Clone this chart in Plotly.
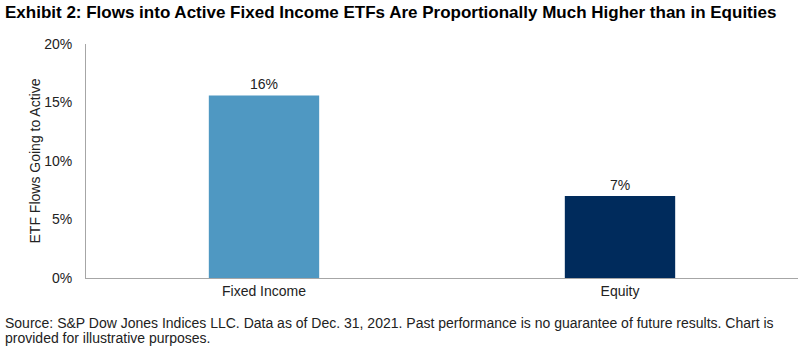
import plotly.graph_objects as go

categories = ["Fixed Income", "Equity"]
values = [15.6, 7.0]
value_labels = ["16%", "7%"]
bar_colors = ["#4F98C2", "#002B5C"]
y_tick_vals = [0, 5, 10, 15, 20]
y_tick_text = ["0%", "5%", "10%", "15%", "20%"]
title_text = "<b>Exhibit 2: Flows into Active Fixed Income ETFs Are Proportionally Much Higher than in Equities</b>"
footnote_lines = [
    "Source: S&P Dow Jones Indices LLC. Data as of Dec. 31, 2021. Past performance is no guarantee of future results. Chart is",
    "provided for illustrative purposes.",
]

FONT = "Liberation Sans, Arial"

fig = go.Figure(go.Bar(
    x=categories, y=values, text=value_labels, textposition="outside",
    marker=dict(color=bar_colors, line=dict(width=0)),
    textfont=dict(family=FONT, size=14, color="#222222"),
    cliponaxis=False, width=0.31,
))

fig.update_layout(
    width=808, height=354,
    margin=dict(l=86, r=10, t=44, b=76),
    paper_bgcolor="white", plot_bgcolor="white",
    font=dict(family=FONT, size=14, color="#222222"),
    showlegend=False,
)
fig.update_xaxes(
    showline=True, linecolor="#A6A6A6", linewidth=1, ticks="",
    tickfont=dict(size=14, color="#222222"), showgrid=False,
)
fig.update_yaxes(
    range=[0, 20], tickvals=y_tick_vals, ticktext=y_tick_text,
    showline=True, linecolor="#A6A6A6", linewidth=1, showgrid=False,
    zeroline=False, ticks="outside", ticklen=10, tickcolor="rgba(0,0,0,0)",
    tickfont=dict(size=14, color="#222222"),
    title=dict(text="ETF Flows Going to Active", font=dict(size=14, color="#222222"), standoff=0),
)
fig.add_annotation(
    text=title_text,
    xref="paper", yref="paper", x=0, y=1, xanchor="left", yanchor="middle",
    xshift=-83, yshift=32, showarrow=False,
    font=dict(family=FONT, size=17, color="#000000"),
)
for i, line in enumerate(footnote_lines):
    fig.add_annotation(
        text=line,
        xref="paper", yref="paper", x=0, y=0, xanchor="left", yanchor="middle",
        xshift=-83, yshift=-45 - 15 * i, showarrow=False, align="left",
        font=dict(family=FONT, size=14, color="#222222"),
    )
fig.write_html("out.html")
